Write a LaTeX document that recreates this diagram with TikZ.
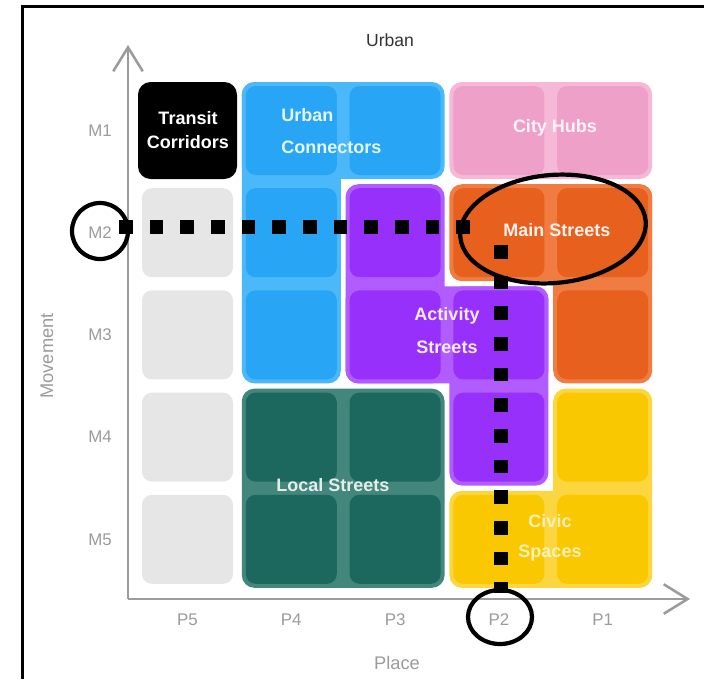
\documentclass[tikz,border=0pt]{standalone}
\usepackage{fontspec}
\setmainfont{Liberation Sans}
\usetikzlibrary{arrows.meta, shapes.geometric}

\definecolor{blueCell}{RGB}{40,166,245}
\definecolor{blueBg}{RGB}{75,184,250}
\definecolor{pinkCell}{RGB}{238,160,200}
\definecolor{pinkBg}{RGB}{245,184,214}
\definecolor{orangeCell}{RGB}{232,96,30}
\definecolor{orangeBg}{RGB}{240,124,66}
\definecolor{purpleCell}{RGB}{150,48,250}
\definecolor{purpleBg}{RGB}{176,92,255}
\definecolor{tealCell}{RGB}{28,104,94}
\definecolor{tealBg}{RGB}{66,134,124}
\definecolor{yellowCell}{RGB}{249,200,0}
\definecolor{yellowBg}{RGB}{252,214,64}
\definecolor{greyCell}{RGB}{230,230,230}
\definecolor{axisGrey}{RGB}{155,155,155}

\tikzset{
  groupbox/.style={rounded corners=9pt},
  cellbox/.style={rounded corners=7pt},
  grouptext/.style={font=\bfseries\fontsize{12.8}{21}\selectfont, align=center, inner sep=0pt},
  axistext/.style={text=axisGrey, font=\fontsize{12}{14}\selectfont},
  axisline/.style={draw=axisGrey, line width=1.8pt, -{Straight Barb[length=17pt, width=21pt]}},
  ring/.style={draw, line width=3pt, inner sep=0pt},
  dotline/.style={line width=9.8pt, dash pattern=on 9.8pt off 12pt},
}

\begin{document}
\begin{tikzpicture}[x=0.025cm, y=-0.025cm]
% Page size, as in the reference (one unit is one pixel)
\useasboundingbox (0,0) rectangle (704,679);
% Frame: only its top and left sides are in view
\draw[line width=2pt] (22.5,679) -- (22.5,6.3) -- (704,6.3);
% Group backgrounds, one rectangle per run of cells
% column c starts at x = 138+103.8c, row r at y = 82+102.2r
\foreach \ca/\ra/\cb/\rb/\col in {0/0/0/0/black, 1/0/2/0/blueBg, 1/0/1/2/blueBg,
    3/0/4/0/pinkBg, 3/1/4/1/orangeBg, 4/1/4/2/orangeBg,
    2/1/2/2/purpleBg, 2/2/3/2/purpleBg, 3/2/3/3/purpleBg,
    1/3/2/4/tealBg, 4/3/4/4/yellowBg, 3/4/4/4/yellowBg}
  \fill[groupbox, fill=\col] ({138+103.8*\ca},{82+102.2*\ra}) rectangle ({237+103.8*\cb},{179+102.2*\rb});
% Single cells, inset in their group
\foreach \c/\r/\col in {1/0/blueCell, 2/0/blueCell, 1/1/blueCell, 1/2/blueCell,
    3/0/pinkCell, 4/0/pinkCell, 3/1/orangeCell, 4/1/orangeCell, 4/2/orangeCell,
    2/1/purpleCell, 2/2/purpleCell, 3/2/purpleCell, 3/3/purpleCell,
    1/3/tealCell, 2/3/tealCell, 1/4/tealCell, 2/4/tealCell,
    4/3/yellowCell, 3/4/yellowCell, 4/4/yellowCell,
    0/1/greyCell, 0/2/greyCell, 0/3/greyCell, 0/4/greyCell}
  \fill[cellbox, fill=\col] ({142+103.8*\c},{86+102.2*\r}) rectangle +(91,89);
% Group names
\node[grouptext, text=white, font=\bfseries\fontsize{12.8}{17.5}\selectfont] (transit) at (188,130) {Transit\\Corridors};
\node[grouptext, text=white!88!blueCell, align=left, anchor=west, font=\bfseries\fontsize{12.8}{22.8}\selectfont] (connectors) at (281,131) {Urban\\Connectors};
\node[grouptext, text=white!88!pinkCell] (hubs) at (555,128) {City Hubs};
\node[grouptext, text=white!92!orangeCell] (mainstreets) at (557,230) {Main Streets};
\node[grouptext, text=white!90!purpleCell, font=\bfseries\fontsize{12.8}{23.5}\selectfont] (activity) at (447,331) {Activity\\Streets};
\node[grouptext, text=white!88!tealCell] (local) at (333,485) {Local Streets};
\node[grouptext, text=white!72!yellowCell] (civic) at (550,538) {Civic\\Spaces};
% Axes
\coordinate (origin) at (128,599);
\coordinate (ytip) at (128,45);
\coordinate (xtip) at (690,599);
\draw[axisline] (origin) -- (ytip);
\draw[axisline] (origin) -- (xtip);
\foreach \r in {1,...,5}
  \node[axistext] (m\r) at (100,{130.5+102.2*(\r-1)}) {M\r};
\foreach \c/\p in {0/5,1/4,2/3,3/2,4/1}
  \node[axistext] (p\p) at ({187.5+103.8*\c},620) {P\p};
\node[text=black!80, font=\fontsize{12.5}{14}\selectfont] (urban) at (390,40) {Urban};
\node[axistext, font=\fontsize{13}{15}\selectfont, rotate=90] (movement) at (47,356) {Movement};
\node[axistext, font=\fontsize{13}{15}\selectfont] (place) at (397,663) {Place};
% Dotted guide lines from M2 and P2
\coordinate (hstart) at (119,227);
\coordinate (hend) at (473,227);
\coordinate (vstart) at (501,245);
\coordinate (vend) at (501,593);
\draw[dotline] (hstart) -- (hend);
\draw[dotline] (vstart) -- (vend);
% Rings
\node[ring, circle, minimum size=1.4cm] (m2ring) at (100,231) {};
\node[ring, ellipse, minimum width=1.6cm, minimum height=1.35cm] (p2ring) at (500,617) {};
\node[ring, ellipse, minimum width=4.65cm, minimum height=2.7cm, rotate=5] (mainring) at (553,229) {};
\end{tikzpicture}
\end{document}
